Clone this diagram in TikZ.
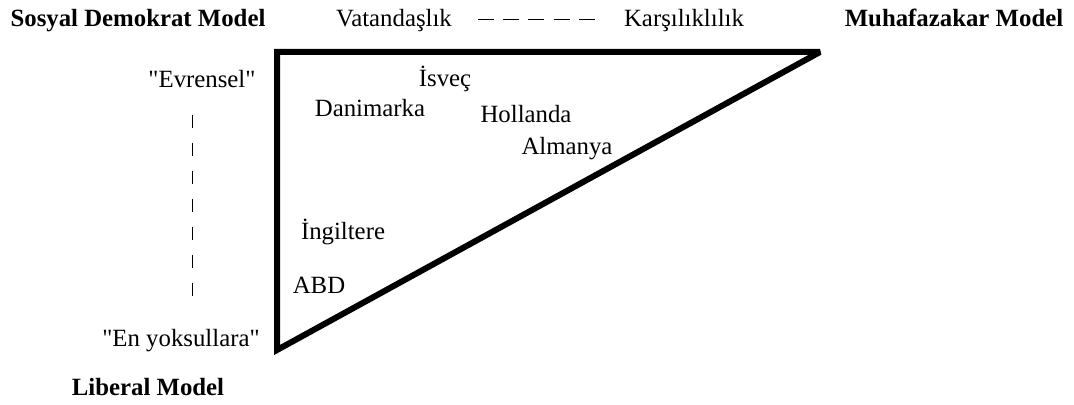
\documentclass[tikz,border=0pt]{standalone}
\usepackage{fontspec}
\setmainfont{Liberation Serif}[Ligatures=TeXOff]
\begin{document}
\begin{tikzpicture}[x=0.5pt,y=-0.5pt,
  lbl/.style={inner sep=0pt,anchor=base,font=\fontsize{12.4}{14}\selectfont},
  mdl/.style={inner sep=0pt,anchor=base,font=\fontsize{12.4}{14}\selectfont\bfseries},
  tri/.style={line width=3pt,miter limit=2},
  dshh/.style={line width=0.5pt,dash pattern=on 8pt off 4.6pt},
  dshv/.style={line width=0.5pt,dash pattern=on 6.5pt off 7.5pt}]
\useasboundingbox (0,0) rectangle (1074,405);
% triangle corners
\coordinate (tl) at (277,52);
\coordinate (tr) at (820,52);
\coordinate (bl) at (277,350);
\draw[tri] (tl) -- (tr) -- (bl) -- cycle;
% model labels
\node[mdl] (sd) at (138,27) {Sosyal Demokrat Model};
\node[mdl] (mu) at (954,27) {Muhafazakar Model};
\node[mdl] (li) at (148,395) {Liberal Model};
% axis labels
\node[lbl] (va) at (394,27) {Vatandaşlık};
\node[lbl] (ka) at (684,27) {Karşılıklılık};
\node[lbl] (ev) at (202,88) {"Evrensel"};
\node[lbl] (en) at (181,346) {"En yoksullara"};
\coordinate (h1) at (478,20);
\coordinate (h2) at (595,20);
\draw[dshh] (h1) -- (h2);
\coordinate (v1) at (192,115);
\coordinate (v2) at (192,297);
\draw[dshv] (v1) -- (v2);
% countries
\node[lbl] (dk) at (370,117) {Danimarka};
\node[lbl] (se) at (445,87) {İsveç};
\node[lbl] (nl) at (526,123) {Hollanda};
\node[lbl] (de) at (567,155) {Almanya};
\node[lbl] (uk) at (343,240) {İngiltere};
\node[lbl] (us) at (319,293) {ABD};
\end{tikzpicture}
\end{document}
